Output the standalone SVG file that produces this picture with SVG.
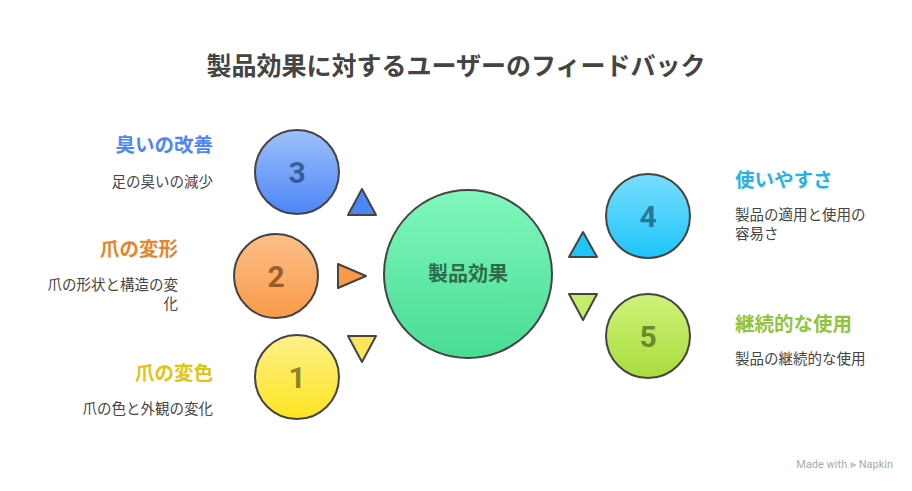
<svg xmlns="http://www.w3.org/2000/svg" width="912" height="491" viewBox="0 0 912 491">
<defs>
<linearGradient id="gb" x1="0" y1="0" x2="0" y2="1"><stop offset="0" stop-color="#9dc0fb"/><stop offset="1" stop-color="#4d86f5"/></linearGradient>
<linearGradient id="go" x1="0" y1="0" x2="0" y2="1"><stop offset="0" stop-color="#fdc08a"/><stop offset="1" stop-color="#f99a48"/></linearGradient>
<linearGradient id="gy" x1="0" y1="0" x2="0" y2="1"><stop offset="0" stop-color="#fdf08a"/><stop offset="1" stop-color="#fde521"/></linearGradient>
<linearGradient id="gg" x1="0" y1="0" x2="0" y2="1"><stop offset="0" stop-color="#80f7bd"/><stop offset="1" stop-color="#48dc93"/></linearGradient>
<linearGradient id="gc" x1="0" y1="0" x2="0" y2="1"><stop offset="0" stop-color="#78ddfd"/><stop offset="1" stop-color="#1ec5fb"/></linearGradient>
<linearGradient id="gl" x1="0" y1="0" x2="0" y2="1"><stop offset="0" stop-color="#cff27a"/><stop offset="1" stop-color="#a8dd3c"/></linearGradient>
</defs>
<style>
text{font-family:Roboto,"Noto Sans CJK JP",sans-serif}
.c{stroke:#444;stroke-width:2}
.n{font-size:30px;font-weight:bold;text-anchor:middle;fill-opacity:.7}
.h{font-size:19.5px;font-weight:bold}
.d{font-size:14.5px;fill:#444}
.t{stroke:#444;stroke-width:2;stroke-linejoin:round}
</style>
<rect width="912" height="491" fill="#fff"/>
<text x="456" y="75" text-anchor="middle" font-size="25" font-weight="bold" fill="#444">製品効果に対するユーザーのフィードバック</text>
<g id="connectors">
<polygon class="t" fill="#4d86f5" points="348,215 376,215 362,189"/>
<polygon class="t" fill="#f99a48" points="338,264 366,276 338,288"/>
<polygon class="t" fill="#fde55a" points="348,336 376,336 362,362"/>
<polygon class="t" fill="#1ec5fb" points="569,257 597,257 583,232"/>
<polygon class="t" fill="#c5ee68" points="569,294 597,294 583,320"/>
</g>
<g id="center"><circle class="c" cx="468" cy="274" r="84" fill="url(#gg)"/><text x="468" y="281" text-anchor="middle" font-size="20" font-weight="bold" fill="#2f6b4b">製品効果</text></g>
<g id="n3"><circle class="c" cx="297" cy="172" r="42" fill="url(#gb)"/><text class="n" x="297" y="183" fill="#1f3d6e">3</text>
<text class="h" x="213" y="152" text-anchor="end" fill="#4d86f5">臭いの改善</text><text class="d" x="213" y="187" text-anchor="end">足の臭いの減少</text></g>
<g id="n2"><circle class="c" cx="276" cy="276" r="42" fill="url(#go)"/><text class="n" x="276" y="287" fill="#6b3a12">2</text>
<text class="h" x="178" y="256" text-anchor="end" fill="#e8842c">爪の変形</text><text class="d" x="178" y="290" text-anchor="end">爪の形状と構造の変</text><text class="d" x="178" y="309" text-anchor="end">化</text></g>
<g id="n1"><circle class="c" cx="297" cy="377" r="42" fill="url(#gy)"/><text class="n" x="297" y="388" fill="#5e5412">1</text>
<text class="h" x="213" y="380" text-anchor="end" fill="#e3c410">爪の変色</text><text class="d" x="213" y="414" text-anchor="end">爪の色と外観の変化</text></g>
<g id="n4"><circle class="c" cx="648" cy="216" r="42" fill="url(#gc)"/><text class="n" x="648" y="227" fill="#16506a">4</text>
<text class="h" x="735" y="187" fill="#27b2e3">使いやすさ</text><text class="d" x="735" y="220">製品の適用と使用の</text><text class="d" x="735" y="239">容易さ</text></g>
<g id="n5"><circle class="c" cx="648" cy="336" r="42" fill="url(#gl)"/><text class="n" x="648" y="347" fill="#4a5e1a">5</text>
<text class="h" x="735" y="331" fill="#90c43a">継続的な使用</text><text class="d" x="735" y="364">製品の継続的な使用</text></g>
<text x="893" y="468" text-anchor="end" font-size="11" fill="#aaa">Made with ⪢ Napkin</text>
</svg>
